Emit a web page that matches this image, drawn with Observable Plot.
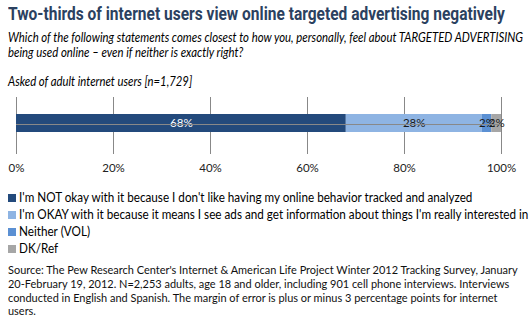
<!DOCTYPE html>
<html><head><meta charset="utf-8">
<script src="https://cdn.jsdelivr.net/npm/d3@7"></script>
<script src="https://cdn.jsdelivr.net/npm/@observablehq/plot@0.6"></script>
<style>
body{margin:0;background:#fff;width:530px;height:324px;overflow:hidden;position:relative;font-family:Lato,"Open Sans",sans-serif;color:#000}
.abs{position:absolute;white-space:nowrap}
.ln{display:block;white-space:nowrap}
.ln span.t{display:inline-block;transform-origin:0 50%}
#title{left:8px;top:2px;font-family:Roboto,sans-serif;font-weight:bold;font-size:19px;line-height:24px;color:#2b4160}
#sub{left:8px;top:30px;font-style:italic;font-size:13px;line-height:15px}
#asked{left:8px;top:74px;font-style:italic;font-size:12.5px;line-height:15px}
#chart{left:0;top:92px}
#legend{left:8px;top:189px;font-size:12.5px;line-height:17px}
.sw{display:inline-block;width:8px;height:8px;margin-right:3px;vertical-align:0px}
#source{left:8px;top:263px;font-size:12.3px;line-height:13.8px;color:#111}
</style></head>
<body>
<div id="title" class="abs"></div>
<div id="sub" class="abs"></div>
<div id="asked" class="abs"></div>
<div id="chart" class="abs"></div>
<div id="legend" class="abs"></div>
<div id="source" class="abs"></div>
<script>
const titleText = "Two-thirds of internet users view online targeted advertising negatively";
const subtitleLines = [
  "Which of the following statements comes closest to how you, personally, feel about TARGETED ADVERTISING",
  "being used online – even if neither is exactly right?"
];
const askedText = "Asked of adult internet users [n=1,729]";
const sourceLines = [
  "Source: The Pew Research Center's Internet & American Life Project Winter 2012 Tracking Survey, January",
  "20-February 19, 2012. N=2,253 adults, age 18 and older, including 901 cell phone interviews. Interviews",
  "conducted in English and Spanish. The margin of error is plus or minus 3 percentage points for internet",
  "users."
];
const categories = [
  "I'm NOT okay with it because I don't like having my online behavior tracked and analyzed",
  "I'm OKAY with it because it means I see ads and get information about things I'm really interested in",
  "Neither (VOL)",
  "DK/Ref"
];
const values = [68, 28, 2, 2];
const tickValues = [0, 20, 40, 60, 80, 100];
const tickLabels = ["0%", "20%", "40%", "60%", "80%", "100%"];
const colors = ["#234a7c", "#8eb4e3", "#5b90d3", "#a6a6a6"];
const labelColors = ["#ffffff", "#1a1a1a", "#1a1a1a", "#1a1a1a"];

const data = categories.map((c, i) => ({cat: c, value: values[i], idx: i, row: "all"}));

function addLines(id, lines, swatches) {
  const box = document.getElementById(id);
  const spans = [];
  lines.forEach((txt, i) => {
    const row = document.createElement("div");
    row.className = "ln";
    if (swatches) {
      const sw = document.createElement("span");
      sw.className = "sw"; sw.style.background = swatches[i];
      row.appendChild(sw);
    }
    const t = document.createElement("span");
    t.className = "t";
    t.textContent = txt;
    row.appendChild(t);
    box.appendChild(row);
    spans.push(t);
  });
  return spans;
}
const titleSpans = addLines("title", [titleText]);
const subSpans = addLines("sub", subtitleLines);
const askedSpans = addLines("asked", [askedText]);
const legSpans = addLines("legend", categories, colors);
const srcSpans = addLines("source", sourceLines);

const chart = Plot.plot({
  width: 530, height: 85,
  marginLeft: 16, marginRight: 29, marginTop: 5, marginBottom: 26,
  style: {fontFamily: "Lato, 'Open Sans', sans-serif", fontSize: "11px", background: "transparent"},
  x: {domain: [0, 100], label: null},
  y: {domain: ["all"], range: [20, 42], axis: null},
  color: {domain: categories, range: colors},
  marks: [
    Plot.ruleX(tickValues, {stroke: "#888", strokeWidth: 1, strokeOpacity: 1}),
    Plot.barX(data, Plot.stackX({x: "value", y: "row", fill: "cat", order: "idx"})),
    Plot.text(data, Plot.stackX({x: "value", y: "row", z: "cat", order: "idx", text: d => d.value + "%", fill: d => labelColors[d.idx], fontSize: 11.5})),
    Plot.ruleY([0], {y: null, x1: 0, x2: 100, stroke: "#888", frameAnchor: "bottom"}),
    Plot.axisX({ticks: tickValues, tickFormat: d => tickLabels[tickValues.indexOf(d)], tickSize: 3, tickPadding: 9, stroke: "#888", color: "#222", fontSize: 11.5, label: null})
  ]
});
document.getElementById("chart").appendChild(chart);

function fit(spans, refIndex, target) {
  const w = spans[refIndex].offsetWidth;
  if (!w) return;
  const k = target / w;
  spans.forEach(s => s.style.transform = `scaleX(${k})`);
}
function doFit() {
  fit(titleSpans, 0, 497);
  fit(subSpans, 0, 515);
  fit(askedSpans, 0, 184);
  fit(legSpans, 1, 509);
  fit(srcSpans, 0, 510);
}
doFit();
if (document.fonts && document.fonts.ready) document.fonts.ready.then(doFit);
</script>
</body></html>
